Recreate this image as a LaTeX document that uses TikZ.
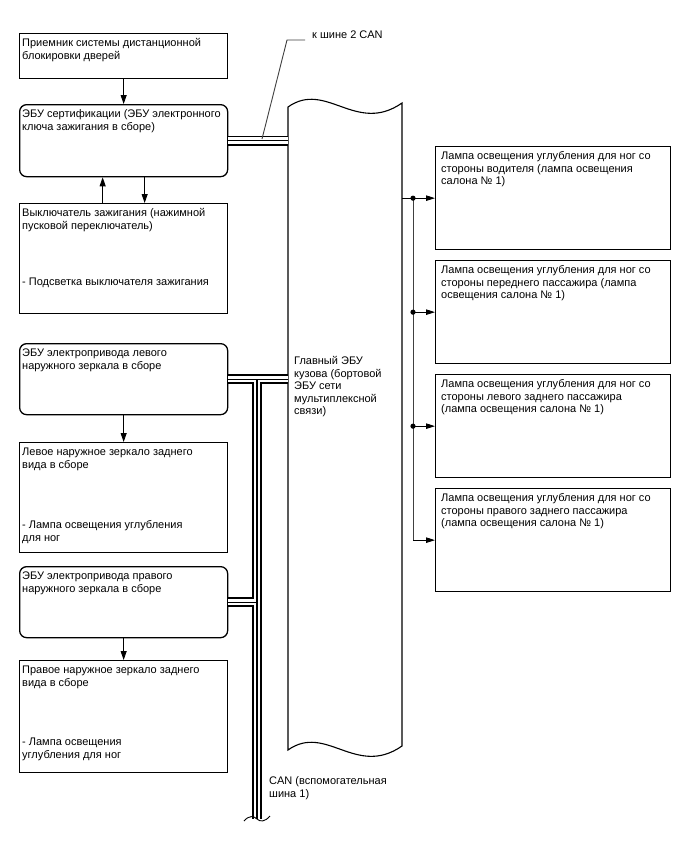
\documentclass[tikz,border=0pt]{standalone}
\usepackage{fontspec}
\setmainfont{Liberation Sans}
\usetikzlibrary{arrows.meta,calc}
\newcommand\tf{\fontsize{11}{12.5}\selectfont}
\begin{document}
\begin{tikzpicture}[x=1pt,y=-1pt,
  box/.style={draw, line width=1.3pt, inner sep=0pt, anchor=north west, minimum width=208pt},
  rbox/.style={box, rounded corners=7pt},
  lampbox/.style={box, minimum width=235pt, minimum height=103pt},
  txt/.style={anchor=north west, inner sep=0pt, align=left, font=\tf},
  arr/.style={-{Triangle[length=9pt,width=6pt]}, line width=0.9pt},
  rarr/.style={-{Triangle[length=9pt,width=5.5pt]}, line width=0.9pt},
  thinline/.style={line width=0.9pt},
]
\useasboundingbox (0,0) rectangle (688,852);
\fill[white] (0,0) rectangle (688,852);

% left boxes
\node[box, minimum height=45pt] (b1) at (19,33) {};
\node[rbox, minimum height=72pt] (b2) at (19,104) {};
\node[box, minimum height=110pt] (b3) at (19,203) {};
\node[rbox, minimum height=71pt] (b4) at (19,343) {};
\node[box, minimum height=110pt] (b5) at (19,442) {};
\node[rbox, minimum height=71pt] (b6) at (19,566) {};
\node[box, minimum height=112pt] (b7) at (19,660) {};

\node[txt] (t1) at ($(b1.north west)+(3,5)$) {\strut Приемник системы дистанционной\\блокировки дверей};
\node[txt] (t2) at ($(b2.north west)+(3,5)$) {\strut ЭБУ сертификации (ЭБУ электронного\\ключа зажигания в сборе)};
\node[txt] (t3) at ($(b3.north west)+(3,5)$) {\strut Выключатель зажигания (нажимной\\пусковой переключатель)\\[44pt]- Подсветка выключателя зажигания};
\node[txt] (t4) at ($(b4.north west)+(3,5)$) {\strut ЭБУ электропривода левого\\наружного зеркала в сборе};
\node[txt] (t5) at ($(b5.north west)+(3,5)$) {\strut Левое наружное зеркало заднего\\вида в сборе\\[48pt]- Лампа освещения углубления\\для ног};
\node[txt] (t6) at ($(b6.north west)+(3,5)$) {\strut ЭБУ электропривода правого\\наружного зеркала в сборе};
\node[txt] (t7) at ($(b7.north west)+(3,5)$) {\strut Правое наружное зеркало заднего\\вида в сборе\\[47pt]- Лампа освещения\\углубления для ног};

% right lamp boxes
\node[lampbox] (r1) at (435,146) {};
\node[lampbox] (r2) at (435,260) {};
\node[lampbox] (r3) at (435,374) {};
\node[lampbox] (r4) at (435,488) {};
\node[txt] (s1) at ($(r1.north west)+(6,5)$) {\strut Лампа освещения углубления для ног со\\стороны водителя (лампа освещения\\салона № 1)};
\node[txt] (s2) at ($(r2.north west)+(6,5)$) {\strut Лампа освещения углубления для ног со\\стороны переднего пассажира (лампа\\освещения салона № 1)};
\node[txt] (s3) at ($(r3.north west)+(6,5)$) {\strut Лампа освещения углубления для ног со\\стороны левого заднего пассажира\\(лампа освещения салона № 1)};
\node[txt] (s4) at ($(r4.north west)+(6,5)$) {\strut Лампа освещения углубления для ног со\\стороны правого заднего пассажира\\(лампа освещения салона № 1)};

% main body ECU
\draw[line width=1.1pt] (288,107) .. controls (326,80) and (356,135) .. (402,103)
  -- (402,746) .. controls (356,778) and (326,723) .. (288,750) -- cycle;
\node[txt] (ecu) at (294,356) {\strut Главный ЭБУ\\кузова (бортовой\\ЭБУ сети\\мультиплексной\\связи)};
\coordinate (ecux) at (288,0);
\coordinate (ecurx) at (402,0);
\coordinate (jx) at (413,0);
\coordinate (busx) at (257,0);
\coordinate (busend) at (257,819);

% CAN buses
\foreach \w/\c in {10pt/black, 6.4pt/white, 1.3pt/black}{
  \draw[line width=\w, draw=\c] (b2.east) -- (b2.east -| ecux);
  \draw[line width=\w, draw=\c] (b4.east) -- (b4.east -| ecux);
  \draw[line width=\w, draw=\c] (b4.east -| busx) -- (busend);
  \draw[line width=\w, draw=\c] (b6.east) -- (b6.east -| busx);
}
\draw[thinline] (244,821) .. controls (249,815) and (254,816) .. (257,819) .. controls (260,822) and (265,822) .. (270,816);
\node[txt] (can1) at (269,776) {\strut CAN (вспомогательная\\шина 1)};

% leader to CAN bus 2
\coordinate (ld0) at (262,139);
\coordinate (ld1) at (287,40);
\coordinate (ld2) at (305,40);
\draw[thinline, draw=black!75] (ld0) -- (ld1) -- (ld2);
\node[anchor=base west, inner sep=0pt, font=\tf] (k2) at (312,38.5) {к шине 2 CAN};

% left arrows
\draw[arr] (b1.south) -- (b2.north);
\draw[arr] ([xshift=-21pt]b3.north) -- ([xshift=-21pt]b2.south);
\draw[arr] ([xshift=21pt]b2.south) -- ([xshift=21pt]b3.north);
\draw[arr] (b4.south) -- (b5.north);
\draw[arr] (b6.south) -- (b7.north);

% right connections
\draw[thinline] (r1.west -| ecurx) -- (r1.west -| jx);
\draw[thinline, draw=black!75] (r1.west -| jx) -- (r4.west -| jx);
\draw[rarr] (r1.west -| jx) -- (r1.west);
\draw[rarr] (r2.west -| jx) -- (r2.west);
\draw[rarr] (r3.west -| jx) -- (r3.west);
\draw[rarr] (r4.west -| jx) -- (r4.west);
\fill (r1.west -| jx) circle (2.6pt);
\fill (r2.west -| jx) circle (2.6pt);
\fill (r3.west -| jx) circle (2.6pt);
\end{tikzpicture}
\end{document}
